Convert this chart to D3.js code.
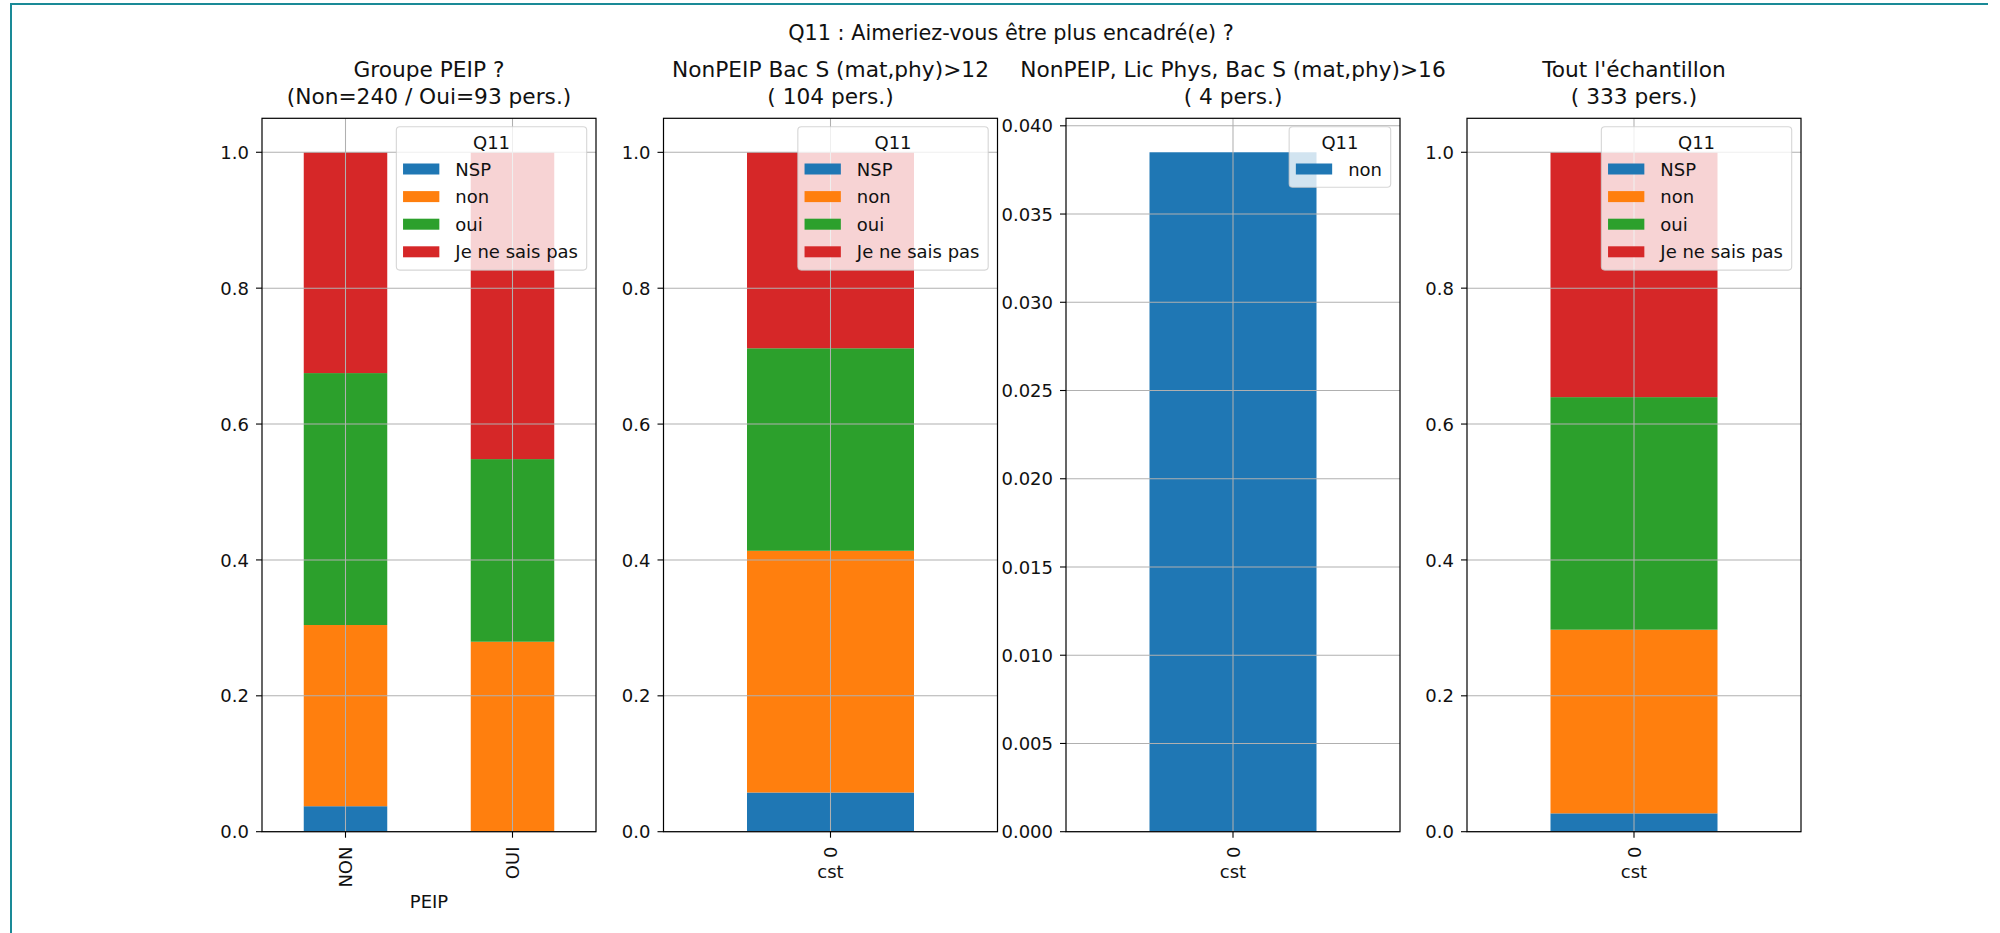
<!DOCTYPE html>
<html>
<head>
<meta charset="utf-8">
<script src="https://cdn.jsdelivr.net/npm/d3@7"></script>
<style>
  html, body { margin: 0; padding: 0; background: #fff; }
  svg { display: block; }
  text { font-family: "DejaVu Sans", sans-serif; fill: #111; }
</style>
</head>
<body>
<svg id="chart" width="2000" height="933"></svg>
<script>
// ---------------- DATA ----------------
const suptitle = "Q11 : Aimeriez-vous être plus encadré(e) ?";
const legendTitle = "Q11";
const seriesNames = ["NSP", "non", "oui", "Je ne sais pas"];
const seriesColors = ["#1f77b4", "#ff7f0e", "#2ca02c", "#d62728"];

// Panel 1 : Groupe PEIP ?
const p1Title = ["Groupe PEIP ?", "(Non=240 / Oui=93 pers.)"];
const p1Categories = ["NON", "OUI"];
const p1XLabel = "PEIP";
const p1NSP = [0.0375, 0.0];
const p1Non = [0.2667, 0.2796];
const p1Oui = [0.3708, 0.2688];
const p1JNSP = [0.3250, 0.4516];
const p1Ticks = [0, 0.2, 0.4, 0.6, 0.8, 1.0];

// Panel 2 : NonPEIP Bac S (mat,phy)>12
const p2Title = ["NonPEIP Bac S (mat,phy)>12", "( 104 pers.)"];
const p2Categories = ["0"];
const p2XLabel = "cst";
const p2NSP = [0.0577];
const p2Non = [0.3558];
const p2Oui = [0.2981];
const p2JNSP = [0.2885];
const p2Ticks = [0, 0.2, 0.4, 0.6, 0.8, 1.0];

// Panel 3 : NonPEIP, Lic Phys, Bac S (mat,phy)>16
const p3Title = ["NonPEIP, Lic Phys, Bac S (mat,phy)>16", "( 4 pers.)"];
const p3Categories = ["0"];
const p3XLabel = "cst";
const p3SeriesNames = ["non"];
const p3Non = [0.0385];
const p3Ticks = [0, 0.005, 0.010, 0.015, 0.020, 0.025, 0.030, 0.035, 0.040];

// Panel 4 : Tout l'échantillon
const p4Title = ["Tout l'échantillon", "( 333 pers.)"];
const p4Categories = ["0"];
const p4XLabel = "cst";
const p4NSP = [0.0270];
const p4Non = [0.2703];
const p4Oui = [0.3423];
const p4JNSP = [0.3604];
const p4Ticks = [0, 0.2, 0.4, 0.6, 0.8, 1.0];

// ---------------- LAYOUT ----------------
const svg = d3.select("#chart");
const AX_TOP = 118.3, AX_BOTTOM = 831.7, AX_W = 334;
const axLefts = [262, 663.5, 1066, 1467];
const TICK_FS = 18, TITLE_FS = 21.7;

// page frame (teal border)
svg.append("line").attr("x1", 11).attr("x2", 11).attr("y1", 3).attr("y2", 933)
  .attr("stroke", "#1a8a97").attr("stroke-width", 2);
svg.append("line").attr("x1", 10).attr("x2", 1988).attr("y1", 4).attr("y2", 4)
  .attr("stroke", "#1a8a97").attr("stroke-width", 2);

svg.append("text").attr("x", 1011).attr("y", 39.5).attr("text-anchor", "middle")
  .attr("font-size", 20.8).text(suptitle);

function drawPanel(opts) {
  const { left, categories, series, colors, names, ticks, fmt, titleLines, xlabel, rotate } = opts;
  const g = svg.append("g");
  const x = d3.scaleLinear().domain([-0.5, categories.length - 0.5]).range([left, left + AX_W]);
  const totals = categories.map((c, i) => d3.sum(series, s => s[i]));
  const ymax = d3.max(totals) * 1.05;
  const y = d3.scaleLinear().domain([0, ymax]).range([AX_BOTTOM, AX_TOP]);

  // stacked bars
  const rows = categories.map((c, i) => {
    const r = { cat: c, idx: i };
    names.forEach((n, k) => r[n] = series[k][i]);
    return r;
  });
  const stacked = d3.stack().keys(names)(rows);
  stacked.forEach((layer, k) => {
    g.append("g").selectAll("rect").data(layer).join("rect")
      .attr("x", d => x(d.data.idx - 0.25))
      .attr("width", d => x(0.25) - x(-0.25))
      .attr("y", d => y(d[1]))
      .attr("height", d => y(d[0]) - y(d[1]))
      .attr("fill", colors[k]);
  });

  // grid (above bars)
  const grid = g.append("g").attr("stroke", "#b0b0b0").attr("stroke-width", 1.05);
  ticks.forEach(t => grid.append("line")
    .attr("x1", left).attr("x2", left + AX_W).attr("y1", y(t)).attr("y2", y(t)));
  categories.forEach((c, i) => grid.append("line")
    .attr("x1", x(i)).attr("x2", x(i)).attr("y1", AX_TOP).attr("y2", AX_BOTTOM));

  // y axis ticks
  ticks.forEach(t => {
    g.append("line").attr("x1", left - 6).attr("x2", left).attr("y1", y(t)).attr("y2", y(t))
      .attr("stroke", "#000").attr("stroke-width", 1.1);
    g.append("text").attr("x", left - 13).attr("y", y(t) + 6.6).attr("text-anchor", "end")
      .attr("font-size", TICK_FS).text(fmt(t));
  });
  // x ticks
  categories.forEach((c, i) => {
    g.append("line").attr("x1", x(i)).attr("x2", x(i)).attr("y1", AX_BOTTOM).attr("y2", AX_BOTTOM + 6)
      .attr("stroke", "#000").attr("stroke-width", 1.1);
    g.append("text")
      .attr("transform", `translate(${x(i) + 6.5},846.5) rotate(-90)`)
      .attr("text-anchor", "end").attr("font-size", TICK_FS).text(c);
  });
  // x label
  g.append("text").attr("x", left + AX_W / 2).attr("y", xlabel.y).attr("text-anchor", "middle")
    .attr("font-size", TICK_FS).text(xlabel.text);

  // titles
  g.append("text").attr("x", left + AX_W / 2).attr("y", 77).attr("text-anchor", "middle")
    .attr("font-size", TITLE_FS).text(titleLines[0]);
  g.append("text").attr("x", left + AX_W / 2).attr("y", 104).attr("text-anchor", "middle")
    .attr("font-size", TITLE_FS).text(titleLines[1]);

  // spines
  g.append("rect").attr("x", left).attr("y", AX_TOP).attr("width", AX_W).attr("height", AX_BOTTOM - AX_TOP)
    .attr("fill", "none").attr("stroke", "#000").attr("stroke-width", 1.2);

  // legend
  const lg = g.append("g");
  const box = lg.append("rect");
  const labels = names.map(n => lg.append("text").attr("font-size", TICK_FS).text(n));
  const maxW = d3.max(labels, l => l.node().getComputedTextLength());
  const w = 59 + maxW + 8.7;
  const h = 33 + names.length * 27.6;
  const bx = left + AX_W - 9.3 - w, by = AX_TOP + 8.4;
  box.attr("x", bx).attr("y", by).attr("width", w).attr("height", h).attr("rx", 3.5)
    .attr("fill", "#fff").attr("fill-opacity", 0.8)
    .attr("stroke", "#cccccc").attr("stroke-opacity", 0.8).attr("stroke-width", 1.1);
  box.lower();
  lg.append("text").attr("x", bx + w / 2).attr("y", by + 21.8).attr("text-anchor", "middle")
    .attr("font-size", TICK_FS).text(legendTitle);
  names.forEach((n, k) => {
    const cy = by + 42.3 + k * 27.6;
    lg.append("rect").attr("x", bx + 6.7).attr("y", cy - 5.5).attr("width", 36.3).attr("height", 11)
      .attr("fill", colors[k]);
    labels[k].attr("x", bx + 59).attr("y", cy + 6.6);
  });
}

const fmt1 = d3.format(".1f"), fmt3 = d3.format(".3f");

drawPanel({ left: axLefts[0], categories: p1Categories, series: [p1NSP, p1Non, p1Oui, p1JNSP],
  colors: seriesColors, names: seriesNames, ticks: p1Ticks, fmt: fmt1, titleLines: p1Title,
  xlabel: { text: p1XLabel, y: 908 } });
drawPanel({ left: axLefts[1], categories: p2Categories, series: [p2NSP, p2Non, p2Oui, p2JNSP],
  colors: seriesColors, names: seriesNames, ticks: p2Ticks, fmt: fmt1, titleLines: p2Title,
  xlabel: { text: p2XLabel, y: 877.5 } });
drawPanel({ left: axLefts[2], categories: p3Categories, series: [p3Non],
  colors: [seriesColors[0]], names: p3SeriesNames, ticks: p3Ticks, fmt: fmt3, titleLines: p3Title,
  xlabel: { text: p3XLabel, y: 877.5 } });
drawPanel({ left: axLefts[3], categories: p4Categories, series: [p4NSP, p4Non, p4Oui, p4JNSP],
  colors: seriesColors, names: seriesNames, ticks: p4Ticks, fmt: fmt1, titleLines: p4Title,
  xlabel: { text: p4XLabel, y: 877.5 } });
</script>
</body>
</html>
